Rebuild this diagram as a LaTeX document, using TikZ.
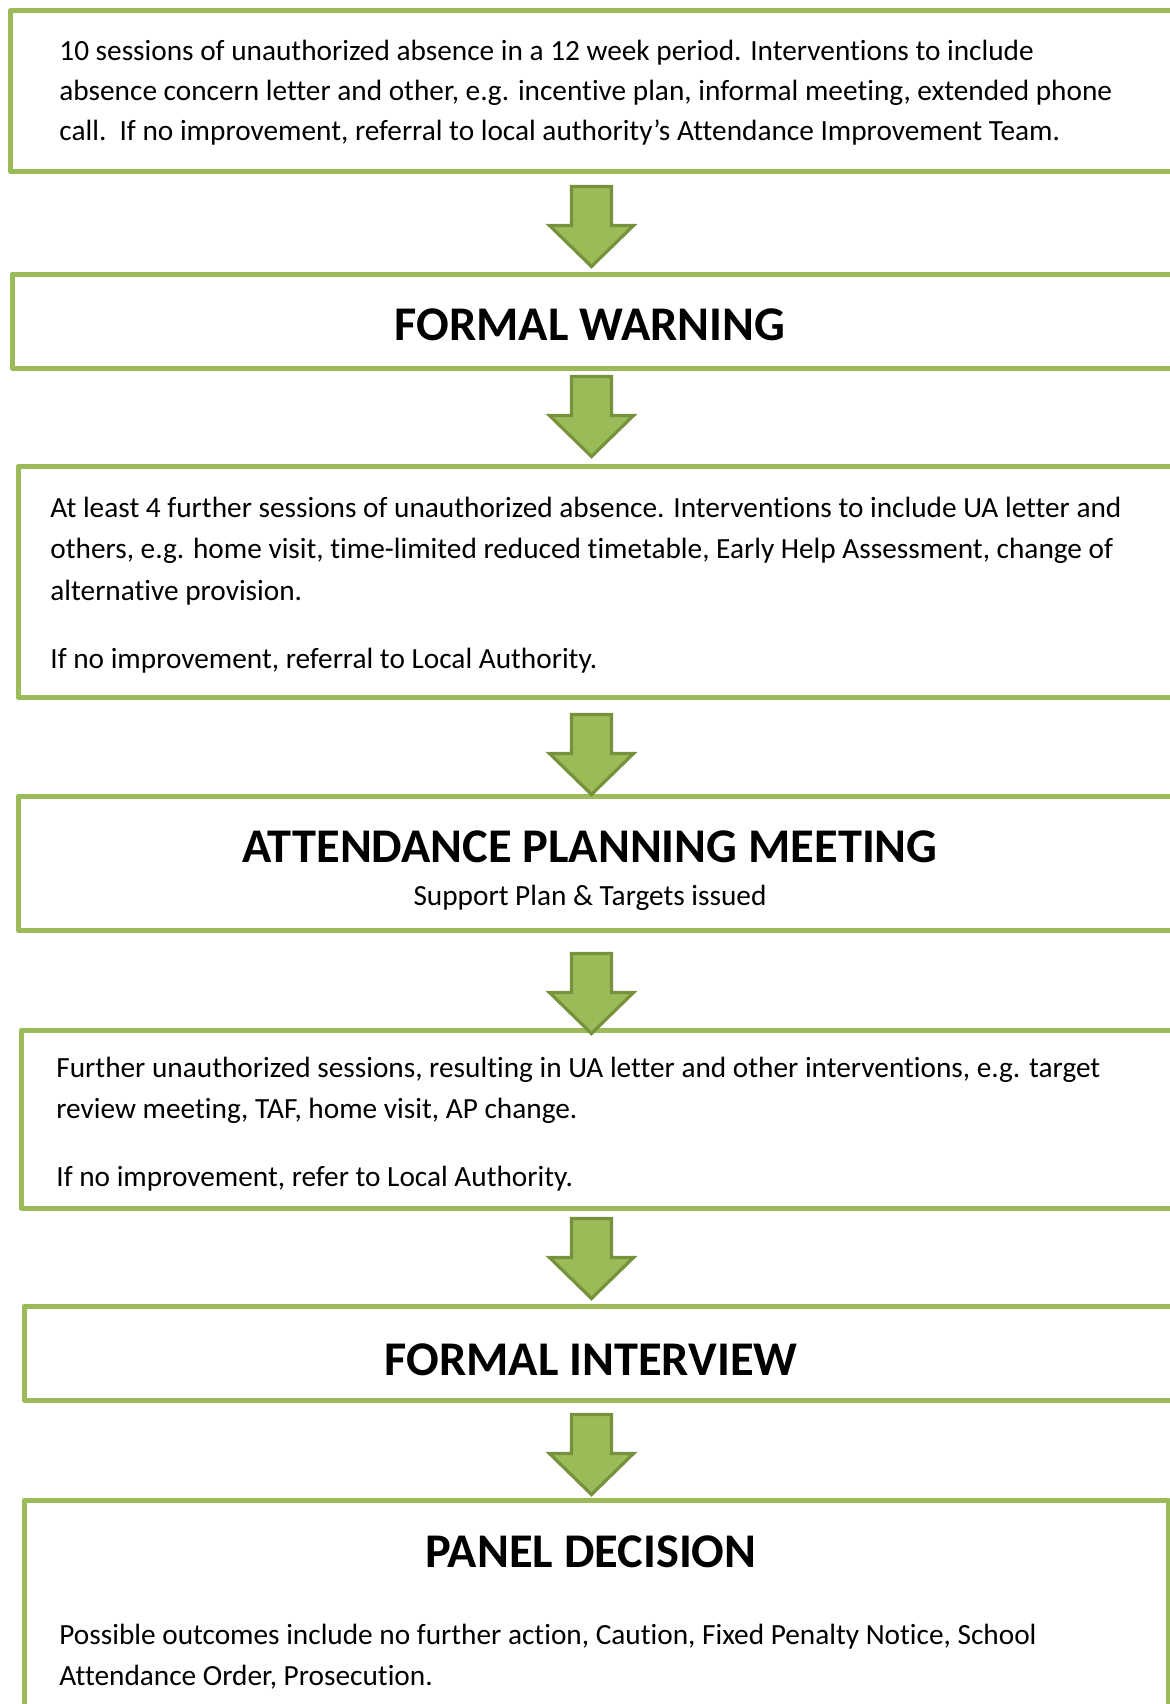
\documentclass[tikz,border=0pt]{standalone}
\usepackage{fontspec}
\setmainfont{Carlito}[Ligatures=NoCommon]
\definecolor{boxgreen}{HTML}{9BBB59}
\definecolor{arrowdark}{HTML}{76923C}
\begin{document}
\begin{tikzpicture}[x=0.5pt,y=-0.5pt,
  box/.style={draw=boxgreen, line width=2.5pt, line join=round, rectangle, inner sep=0pt, outer sep=0pt, anchor=north west},
  body/.style={anchor=base west, inner sep=0pt, font=\fontsize{14.65}{17}\selectfont},
  headtext/.style={anchor=base, inner sep=0pt, font=\fontsize{24.2}{29}\selectfont\bfseries},
  subtext/.style={anchor=base, inner sep=0pt, font=\fontsize{14.65}{17}\selectfont},
  blockarrow/.pic={\fill[boxgreen, draw=arrowdark, line width=1.6pt, line join=miter]
    (-20,0) -- (20,0) -- (20,39) -- (42,39) -- (0,80) -- (-42,39) -- (-20,39) -- cycle;}
]
\path[use as bounding box, clip] (0,0) rectangle (1170,1704);

% boxes
\node[box, minimum width=587.25pt, minimum height=80.25pt] (b1) at (10.5,10.5) {};
\node[box, minimum width=586.25pt, minimum height=47pt] (b2) at (12.5,274) {};
\node[box, minimum width=583.5pt, minimum height=115.25pt] (b3) at (18,466.5) {};
\node[box, minimum width=583.5pt, minimum height=67pt] (b4) at (18,796) {};
\node[box, minimum width=582pt, minimum height=89pt] (b5) at (21,1030) {};
\node[box, minimum width=580.5pt, minimum height=47pt] (b6) at (24,1306) {};
\node[box, minimum width=572pt, minimum height=115pt] (b7) at (24,1500) {};

% block arrows
\pic (a1) at (591.5,186.5) {blockarrow};
\pic (a2) at (591.5,376.5) {blockarrow};
\pic (a3) at (591.5,714.5) {blockarrow};
\pic (a4) at (591.5,953.5) {blockarrow};
\pic (a5) at (591.5,1218.5) {blockarrow};
\pic (a6) at (591.5,1414.5) {blockarrow};

% box 1
\node[body] (t1a) at (59,60) {10 sessions of unauthorized absence in a 12 week period. Interventions to include};
\node[body] (t1b) at (59,100) {absence concern letter and other, e.g. incentive plan, informal meeting, extended phone};
\node[body] (t1c) at (59,140) {call.\ \ If no improvement, referral to local authority’s Attendance Improvement Team.};

% box 2
\node[headtext] (t2) at (590,340) {FORMAL WARNING};

% box 3
\node[body] (t3a) at (50,517) {At least 4 further sessions of unauthorized absence. Interventions to include UA letter and};
\node[body] (t3b) at (50,558) {others, e.g. home visit, time-limited reduced timetable, Early Help Assessment, change of};
\node[body] (t3c) at (50,600) {alternative provision.};
\node[body] (t3d) at (50,668) {If no improvement, referral to Local Authority.};

% box 4
\node[headtext] (t4) at (590,862) {ATTENDANCE PLANNING MEETING};
\node[subtext] (t4s) at (590,905) {Support Plan \& Targets issued};

% box 5
\node[body] (t5a) at (56,1077) {Further unauthorized sessions, resulting in UA letter and other interventions, e.g. target};
\node[body] (t5b) at (56,1118) {review meeting, TAF, home visit, AP change.};
\node[body] (t5c) at (56,1186) {If no improvement, refer to Local Authority.};

% box 6
\node[headtext] (t6) at (591,1375) {FORMAL INTERVIEW};

% box 7
\node[headtext] (t7) at (591,1567) {PANEL DECISION};
\node[body] (t7a) at (59,1644) {Possible outcomes include no further action, Caution, Fixed Penalty Notice, School};
\node[body] (t7b) at (59,1685) {Attendance Order, Prosecution.};
\end{tikzpicture}
\end{document}
